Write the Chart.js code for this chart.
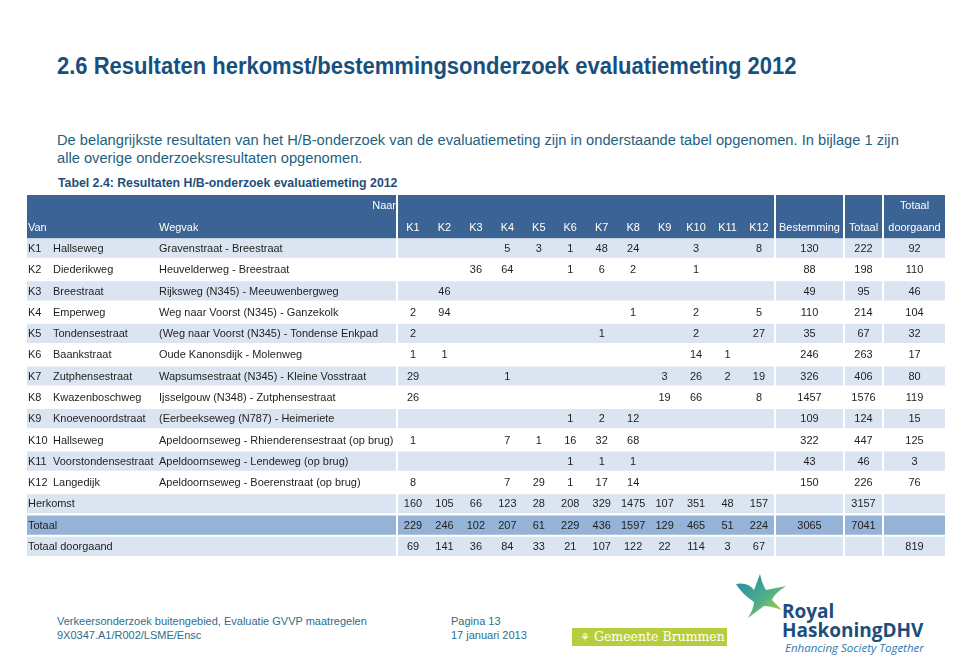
<!DOCTYPE html>
<html>
<head>
<meta charset="utf-8">
<script src="https://cdn.jsdelivr.net/npm/chart.js@4.4.1/dist/chart.umd.min.js"></script>
<style>
  body { margin: 0; background: #fff; font-family: "Liberation Sans", Arial, sans-serif; }
  .page { position: relative; width: 960px; height: 667px; overflow: hidden; }
  .abs { position: absolute; white-space: nowrap; }
  #titel { left: 57px; top: 53px; font-size: 23.3px; font-weight: bold; color: #17507d; transform: scaleX(0.944); transform-origin: 0 0; }
  #tekst { left: 57px; top: 131px; font-size: 14.7px; line-height: 18px; color: #1f5f80; }
  #tabeltitel { left: 58px; top: 176px; font-size: 12.3px; font-weight: bold; color: #1f4e79; }
  #tabel { left: 27px; top: 195px; }
  .voet { font-size: 11px; line-height: 14px; color: #2f6c8c; top: 614px; }
  #brummen { left: 572px; top: 628px; width: 155px; height: 18px; background: #b7cd3c; color: #fff;
             font-family: "DejaVu Serif", serif; font-size: 12.5px; line-height: 18px; }
  #royal { left: 782px; top: 602px; color: #1c4f7c; font-weight: bold; font-size: 19px; line-height: 19px; font-family: "Open Sans", sans-serif; }
  #enh { left: 785px; top: 640px; color: #2a79ad; font-style: italic; font-size: 11.5px; font-family: "Open Sans", sans-serif; }
</style>
</head>
<body>
<div class="page">
  <div id="titel" class="abs">2.6 Resultaten herkomst/bestemmingsonderzoek evaluatiemeting 2012</div>
  <div id="tekst" class="abs">De belangrijkste resultaten van het H/B-onderzoek van de evaluatiemeting zijn in onderstaande tabel opgenomen. In bijlage 1 zijn<br>alle overige onderzoeksresultaten opgenomen.</div>
  <div id="tabeltitel" class="abs">Tabel 2.4: Resultaten H/B-onderzoek evaluatiemeting 2012</div>
  <canvas id="tabel" class="abs" width="918" height="362"></canvas>

  <div class="abs voet" style="left:57px">Verkeersonderzoek buitengebied, Evaluatie GVVP maatregelen<br>9X0347.A1/R002/LSME/Ensc</div>
  <div class="abs voet" style="left:451px">Pagina 13<br>17 januari 2013</div>

  <div id="brummen" class="abs"><span style="padding-left:8px;font-size:11px">&#x2698;</span> Gemeente Brummen</div>
  <svg class="abs" style="left:730px;top:570px" width="64" height="52" viewBox="0 0 64 52">
    <defs>
      <linearGradient id="ster" x1="0" y1="0" x2="1" y2="1">
        <stop offset="0" stop-color="#1a8aa6"/>
        <stop offset="0.55" stop-color="#4fae8a"/>
        <stop offset="1" stop-color="#d2dc2a"/>
      </linearGradient>
    </defs>
    <path d="M6 14 Q18 12 24 20 L30 4 Q32 14 36 20 L56 16 Q44 24 42 30 L52 40 Q40 36 34 36 L18 48 Q24 38 24 32 Q12 24 6 14 Z" fill="url(#ster)"/>
  </svg>
  <div id="royal" class="abs">Royal<br>HaskoningDHV</div>
  <div id="enh" class="abs">Enhancing Society Together</div>
</div>

<script>
// rijen (herkomst)
var rijCodes = ["K1", "K2", "K3", "K4", "K5", "K6", "K7", "K8", "K9", "K10", "K11", "K12"];
var rijNamen = ["Hallseweg", "Diederikweg", "Breestraat", "Emperweg", "Tondensestraat", "Baankstraat",
    "Zutphensestraat", "Kwazenboschweg", "Knoevenoordstraat", "Hallseweg", "Voorstondensestraat", "Langedijk"];
var wegvakken = ["Gravenstraat - Breestraat", "Heuvelderweg - Breestraat", "Rijksweg (N345) - Meeuwenbergweg",
    "Weg naar Voorst (N345) - Ganzekolk", "(Weg naar Voorst (N345) - Tondense Enkpad", "Oude Kanonsdijk - Molenweg",
    "Wapsumsestraat (N345) - Kleine Vosstraat", "Ijsselgouw (N348) - Zutphensestraat", "(Eerbeekseweg (N787) - Heimeriete",
    "Apeldoornseweg - Rhienderensestraat (op brug)", "Apeldoornseweg - Lendeweg (op brug)", "Apeldoornseweg - Boerenstraat (op brug)"];

// kolommen (naar)
var naarKolommen = ["K1", "K2", "K3", "K4", "K5", "K6", "K7", "K8", "K9", "K10", "K11", "K12"];

// H/B matrix, null = leeg
var matrix = [
    [null, null, null, 5, 3, 1, 48, 24, null, 3, null, 8],
    [null, null, 36, 64, null, 1, 6, 2, null, 1, null, null],
    [null, 46, null, null, null, null, null, null, null, null, null, null],
    [2, 94, null, null, null, null, null, 1, null, 2, null, 5],
    [2, null, null, null, null, null, 1, null, null, 2, null, 27],
    [1, 1, null, null, null, null, null, null, null, 14, 1, null],
    [29, null, null, 1, null, null, null, null, 3, 26, 2, 19],
    [26, null, null, null, null, null, null, null, 19, 66, null, 8],
    [null, null, null, null, null, 1, 2, 12, null, null, null, null],
    [1, null, null, 7, 1, 16, 32, 68, null, null, null, null],
    [null, null, null, null, null, 1, 1, 1, null, null, null, null],
    [8, null, null, 7, 29, 1, 17, 14, null, null, null, null]
];
var bestemming = [130, 88, 49, 110, 35, 246, 326, 1457, 109, 322, 43, 150];
var totaal = [222, 198, 95, 214, 67, 263, 406, 1576, 124, 447, 46, 226];
var doorgaand = [92, 110, 46, 104, 32, 17, 80, 119, 15, 125, 3, 76];

// somrijen
var herkomst = [160, 105, 66, 123, 28, 208, 329, 1475, 107, 351, 48, 157];
var herkomstTotaal = 3157;
var totaalNaar = [229, 246, 102, 207, 61, 229, 436, 1597, 129, 465, 51, 224];
var totaalBestemming = 3065;
var totaalAlles = 7041;
var doorgaandNaar = [69, 141, 36, 84, 33, 21, 107, 122, 22, 114, 3, 67];
var doorgaandTotaal = 819;

// layout van de tabel (pixels binnen het canvas)
var groepen = [[0, 369], [371, 747], [749, 816], [818, 855], [857, 918]];
var kolomK = naarKolommen.map(function (k, i) { return 386 + i * 31.45; });
var kolomBest = 782.5, kolomTot = 836.5, kolomDoor = 887.5;
var smal = 0.945; // tekst iets smaller dan hoog, zoals in het origineel

var rijLabels = ["kop1", "kop2"].concat(rijCodes, ["Herkomst", "Totaal", "Totaal doorgaand"]);
var lichteRijen = ["K1", "K3", "K5", "K7", "K9", "K11", "Herkomst", "Totaal doorgaand"];

var datasets = [];
groepen.forEach(function (g) {
    datasets.push({
        data: [{ x: g, y: "kop1" }, { x: g, y: "kop2" }],
        backgroundColor: "#3b6393", barPercentage: 1.06, categoryPercentage: 1, grouped: false
    });
    datasets.push({
        data: lichteRijen.map(function (r) { return { x: g, y: r }; }),
        backgroundColor: "#dbe5f1", barPercentage: 0.9, categoryPercentage: 1, grouped: false
    });
    datasets.push({
        data: [{ x: g, y: "Totaal" }],
        backgroundColor: "#95b3d7", barPercentage: 0.9, categoryPercentage: 1, grouped: false
    });
});

var tekstPlugin = {
    id: "tabeltekst",
    afterDatasetsDraw: function (chart) {
        var ctx = chart.ctx, x = chart.scales.x, y = chart.scales.y;
        ctx.save();
        ctx.font = '11.6px "Liberation Sans", Arial, sans-serif';
        ctx.textBaseline = "middle";

        function tekst(t, kx, rij, align, kleur) {
            if (t === null || t === undefined) return;
            ctx.save();
            ctx.fillStyle = kleur || "#1e1e1e";
            ctx.textAlign = align || "center";
            ctx.translate(x.getPixelForValue(kx), y.getPixelForValue(rijLabels.indexOf(rij)) + 0.5);
            ctx.scale(smal, 1);
            ctx.fillText(String(t), 0, 0);
            ctx.restore();
        }

        // kop
        tekst("Naar", 369, "kop1", "right", "#fff");
        tekst("Totaal", kolomDoor, "kop1", "center", "#fff");
        tekst("Van", 1, "kop2", "left", "#fff");
        tekst("Wegvak", 132, "kop2", "left", "#fff");
        naarKolommen.forEach(function (k, i) { tekst(k, kolomK[i], "kop2", "center", "#fff"); });
        tekst("Bestemming", kolomBest, "kop2", "center", "#fff");
        tekst("Totaal", kolomTot, "kop2", "center", "#fff");
        tekst("doorgaand", kolomDoor, "kop2", "center", "#fff");

        // herkomstrijen
        rijCodes.forEach(function (r, ri) {
            tekst(r, 1, r, "left");
            tekst(rijNamen[ri], 26, r, "left");
            tekst(wegvakken[ri], 132, r, "left");
            matrix[ri].forEach(function (v, ci) { tekst(v, kolomK[ci], r); });
            tekst(bestemming[ri], kolomBest, r);
            tekst(totaal[ri], kolomTot, r);
            tekst(doorgaand[ri], kolomDoor, r);
        });

        // somrijen
        tekst("Herkomst", 1, "Herkomst", "left");
        herkomst.forEach(function (v, ci) { tekst(v, kolomK[ci], "Herkomst"); });
        tekst(herkomstTotaal, kolomTot, "Herkomst");

        tekst("Totaal", 1, "Totaal", "left");
        totaalNaar.forEach(function (v, ci) { tekst(v, kolomK[ci], "Totaal"); });
        tekst(totaalBestemming, kolomBest, "Totaal");
        tekst(totaalAlles, kolomTot, "Totaal");

        tekst("Totaal doorgaand", 1, "Totaal doorgaand", "left");
        doorgaandNaar.forEach(function (v, ci) { tekst(v, kolomK[ci], "Totaal doorgaand"); });
        tekst(doorgaandTotaal, kolomDoor, "Totaal doorgaand");

        ctx.restore();
    }
};

var ctx = document.getElementById("tabel");
var tabel = new Chart(ctx, {
    type: "bar",
    data: { labels: rijLabels, datasets: datasets },
    options: {
        indexAxis: "y",
        responsive: false,
        animation: false,
        devicePixelRatio: 1,
        layout: { padding: 0 },
        scales: {
            x: { type: "linear", min: 0, max: 918, display: false },
            y: { type: "category", display: false }
        },
        plugins: { legend: { display: false }, tooltip: { enabled: false } }
    },
    plugins: [tekstPlugin]
});
</script>
</body>
</html>
